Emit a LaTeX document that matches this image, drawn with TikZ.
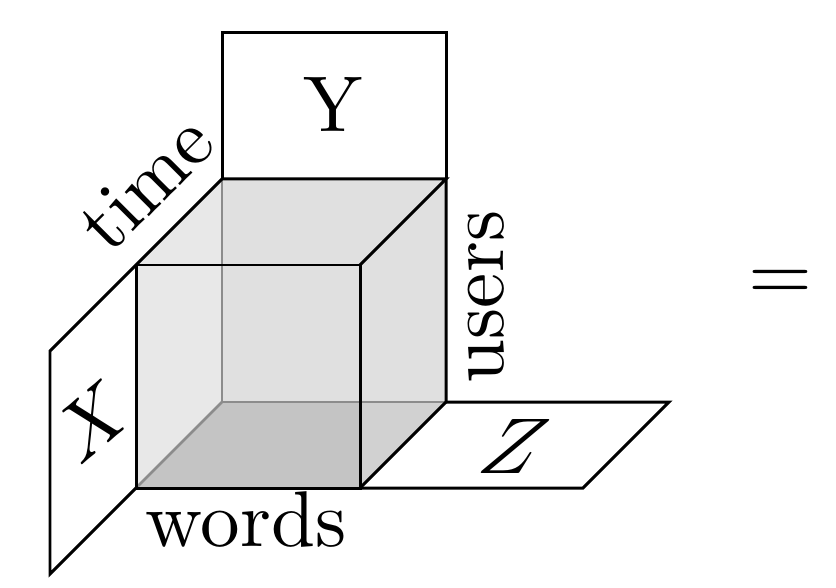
\documentclass[tikz,border=0pt]{standalone}
\usepackage{tikz}
\usetikzlibrary{calc}

\begin{document}
\begin{tikzpicture}[
  x=0.02cm, y=-0.02cm,
  edge/.style={line width=0.06cm, black, line join=miter},
  hidden/.style={line width=0.055cm, black!45},
  bigtext/.style={scale=4.5, inner sep=0pt}
]
  \useasboundingbox (0,0) rectangle (836,588);

  % Corners of the cube, front and back
  \coordinate (FTL) at (136,265);
  \coordinate (FTR) at (360,265);
  \coordinate (FBL) at (136,488);
  \coordinate (FBR) at (360,488);
  \coordinate (BTL) at (222,179);
  \coordinate (BTR) at (446,179);
  \coordinate (BBL) at (222,402);
  \coordinate (BBR) at (446,402);

  % Faces
  \fill[black!12] (FTL) -- (BTL) -- (BTR) -- (BBR) -- (FBR) -- (FBL) -- cycle;
  \fill[black!9] (BTL) -- (BBL) -- (FBL) -- (FTL) -- cycle;
  \fill[black!12] (FTR) -- (BTR) -- (BBR) -- (FBR) -- cycle;
  \fill[black!23] (BBL) -- (BBR) -- (FBR) -- (FBL) -- cycle;
  \fill[black!18] (FTR |- BBL) -- (BBR) -- (FBR) -- cycle;

  % Hidden edges
  \draw[hidden] (BTL) -- (BBL) -- (BBR);
  \draw[hidden] (BBL) -- (FBL);

  % Slices
  \draw[edge] (BTL) -- (222,33) -- (446,33) -- (BTR);
  \draw[edge] (FTL) -- (50,351) -- (50,574) -- (FBL);
  \draw[edge] (BBR) -- (669,402) -- (583,488) -- (FBR);

  % Visible edges
  \draw[edge] (FTL) rectangle (FBR);
  \draw[edge] (FTL) -- (BTL) -- (BTR) -- (FTR);
  \draw[edge] (BTR) -- (BBR) -- (FBR);

  % Labels
  \node[bigtext] (Y) at (333,105) {Y};
  \node[bigtext, rotate=40, xslant=0.1] (X) at (93,421) {$X$};
  \node[bigtext, xslant=0.3] (Z) at (514,446) {$Z$};
  \node[bigtext, rotate=45] (time) at (146,183) {time};
  \node[bigtext, rotate=90] (users) at (486,297) {users};
  \node[bigtext] (words) at (246,519) {words};
  \node[bigtext, scale=1.04] (eq) at (780,285) {$=$};
\end{tikzpicture}
\end{document}
